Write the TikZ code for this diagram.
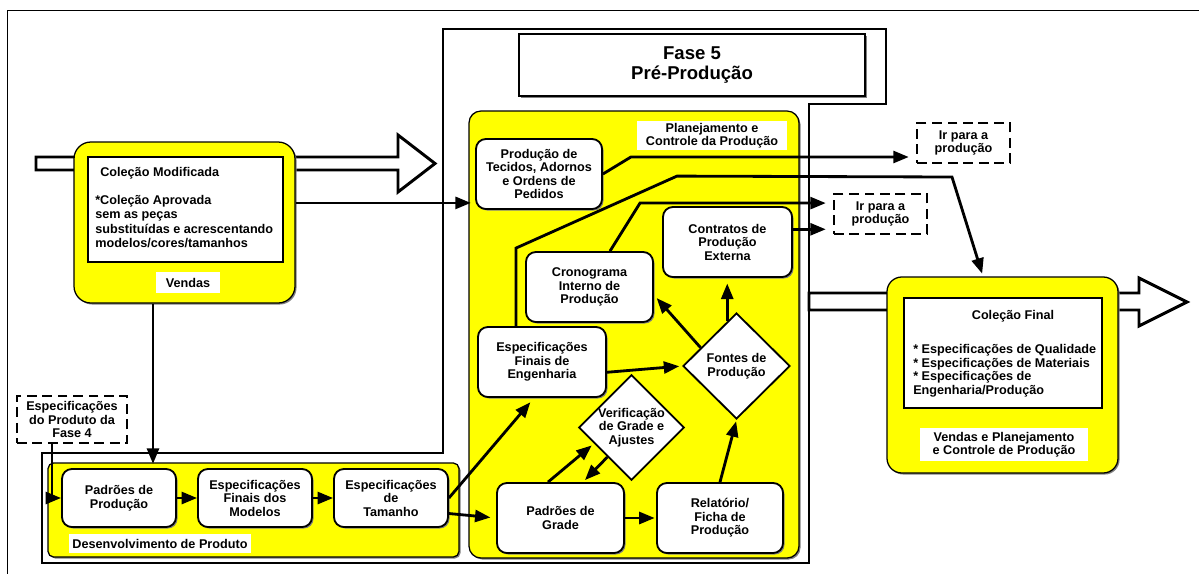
\documentclass[tikz,border=0pt]{standalone}
\usepackage{fontspec}
\setmainfont{Liberation Sans}
\usetikzlibrary{shapes.geometric,arrows.meta,calc,shadows}

\def\pxu{0.025cm}
\definecolor{boxyellow}{RGB}{255,255,0}

\tikzset{
  base/.style={font=\bfseries\fontsize{9}{9.6}\selectfont, align=center, inner sep=0pt},
  shade/.style={drop shadow={shadow xshift=1.1pt, shadow yshift=-1.1pt, fill=black!50, opacity=1}},
  ybox/.style={draw=black, line width=0.9pt, fill=boxyellow, shade},
  wnode/.style={base, draw=black, line width=1.3pt, fill=white, rounded corners=7pt, shade},
  wdiamond/.style={base, shape=diamond, draw=black, line width=1.3pt, fill=white},
  wlabel/.style={base, fill=white},
  dbox/.style={base, draw=black, line width=1.7pt, dash pattern=on 7pt off 4pt, fill=white},
  hollow/.style={draw=black, line width=2.1pt, fill=white, line join=miter},
  arr/.style={line width=2pt, -{Triangle[length=11pt,width=8.5pt]}},
}

\begin{document}
\begin{tikzpicture}[x=\pxu, y=-\pxu]
\useasboundingbox (0,0) rectangle (1199,574);

% page corner lines
\draw[line width=0.7pt] (1199,10) -- (7,10) -- (7,574);

% outline of phase 5
\draw[line width=2.1pt, line join=miter] (443,29) -- (886,29) -- (886,104) -- (809,104)
  -- (809,563) -- (42,563) -- (42,453) -- (443,453) -- cycle;

% wide hollow arrows
\draw[hollow] (36,157) -- (398,157) -- (398,135) -- (435,163.5) -- (398,192) -- (398,170) -- (36,170) -- cycle;
\draw[hollow] (809,293) -- (1139,293) -- (1139,278) -- (1187,302) -- (1139,326) -- (1139,310) -- (809,310) -- cycle;

% phase title
\node[base, draw=black, line width=2.1pt, fill=white, shade,
      font=\bfseries\fontsize{13.2}{13.6}\selectfont,
      minimum width=346*\pxu, minimum height=62*\pxu] (title) at (692,65) {Fase 5\\Pré-Produção};

% sales block
\node[ybox, rounded corners=12pt, minimum width=221*\pxu, minimum height=161*\pxu] (vendas) at (184.5,222.5) {};
\node[draw=black, line width=1pt, fill=white, minimum width=195*\pxu, minimum height=105*\pxu] (vinner) at (185.5,209.5) {};
\node[wlabel, minimum width=64*\pxu, minimum height=21*\pxu] (vlabel) at (188,282.5) {Vendas};
\node[base, anchor=west] (vtitle) at (100,173) {Coleção Modificada};
\node[base, anchor=north west, align=left, font=\bfseries\fontsize{9}{10.3}\selectfont] (vbody) at (95,195)
  {*Coleção Aprovada\\sem as peças\\substituídas e acrescentando\\modelos/cores/tamanhos};

% planning and production control block
\node[ybox, rounded corners=8.5pt, minimum width=330*\pxu, minimum height=447*\pxu] (plan) at (634,334.5) {};
\node[wlabel, minimum width=150*\pxu, minimum height=29*\pxu] (plabel) at (712,135.5) {Planejamento e\\Controle da Produção};

\node[wnode, minimum width=126*\pxu, minimum height=70*\pxu] (tecidos) at (539,174) {Produção de\\Tecidos, Adornos\\e Ordens de\\Pedidos};
\node[wnode, minimum width=129*\pxu, minimum height=70*\pxu] (contratos) at (727.5,242) {Contratos de\\Produção\\Externa};
\node[wnode, minimum width=127*\pxu, minimum height=70*\pxu] (crono) at (589.5,287) {Cronograma\\Interno de\\Produção};
\node[wnode, minimum width=128*\pxu, minimum height=70*\pxu] (engen) at (542,362) {Especificações\\Finais de\\Engenharia};
\node[wdiamond, minimum width=107*\pxu, minimum height=106*\pxu] (fontes) at (736.5,366) {Fontes de\\Produção};
\node[wdiamond, minimum width=105*\pxu, minimum height=105*\pxu] (verif) at (631.5,427.5) {Verificação\\de Grade e\\Ajustes};
\node[wnode, minimum width=127*\pxu, minimum height=70*\pxu] (pgrade) at (560.5,518) {Padrões de\\Grade};
\node[wnode, minimum width=126*\pxu, minimum height=70*\pxu] (relat) at (720,518) {Relatório/\\Ficha de\\Produção};

% product development block
\node[ybox, rounded corners=4pt, minimum width=411*\pxu, minimum height=94*\pxu] (desenv) at (253.5,510) {};
\node[wlabel, minimum width=182*\pxu, minimum height=19*\pxu] (dlabel) at (160,543.5) {Desenvolvimento de Produto};
\node[wnode, minimum width=114*\pxu, minimum height=58*\pxu] (pprod) at (119,498) {Padrões de\\Produção};
\node[wnode, minimum width=114*\pxu, minimum height=58*\pxu] (esmod) at (255,498) {Especificações\\Finais dos\\Modelos};
\node[wnode, minimum width=114*\pxu, minimum height=58*\pxu] (estam) at (391,498) {Especificações\\de\\Tamanho};
\node[dbox, minimum width=110*\pxu, minimum height=47*\pxu] (fase4) at (72,419.5) {Especificações\\do Produto da\\Fase 4};

% final collection block
\node[ybox, rounded corners=10.5pt, minimum width=231*\pxu, minimum height=196*\pxu] (colfinal) at (1002.5,375) {};
\node[draw=black, line width=1pt, fill=white, minimum width=198*\pxu, minimum height=110*\pxu] (cinner) at (1003,353) {};
\node[base] (ctitle) at (1013,316) {Coleção Final};
\node[base, anchor=north west, align=left, font=\bfseries\fontsize{9}{9.7}\selectfont] (cbody) at (913,344)
  {* Especificações de Qualidade\\* Especificações de Materiais\\* Especificações de\\Engenharia/Produção};
\node[wlabel, minimum width=168*\pxu, minimum height=33*\pxu] (clabel) at (1004,444.5) {Vendas e Planejamento\\e Controle de Produção};

% exits to production
\node[dbox, minimum width=93*\pxu, minimum height=40*\pxu] (ir1) at (963.5,143) {Ir para a\\produção};
\node[dbox, minimum width=93*\pxu, minimum height=40*\pxu] (ir2) at (880.5,214) {Ir para a\\produção};

% connectors
\draw[arr, shorten >=3pt] (vendas.10) -- (vendas.10 -| tecidos.west);
\draw[arr, shorten >=5pt] (tecidos.east) -- ++(28,-17) coordinate (k2) -- (k2 -| ir1.west);
\draw[arr, shorten >=2pt] ($(engen.north)+(-26,0)$) -- ++(0,-78) -- ++(161,-72) -- (952,177) -- ($(colfinal.north)+(-19.5,0)$);
\draw[arr, shorten >=5pt] ($(crono.north)+(20.5,0)$) -- ++(30,-48) coordinate (k4) -- (k4 -| ir2.west);
\draw[arr, shorten >=5pt] (contratos.11) -- (contratos.11 -| ir2.west);
\draw[arr, shorten >=3pt] ($(fontes.west)!0.34!(fontes.north)$) -- (crono.-7);
\draw[arr, shorten >=4pt] ($(fontes.north)!0.17!(fontes.west)$) coordinate (k7) -- (k7 |- contratos.south);
\draw[arr, shorten >=2pt] (engen.-9) -- (fontes.west);
\draw[arr, shorten >=1pt] (relat.north) -- (fontes.south);
\draw[arr, shorten >=1pt] (pgrade.east) -- (relat.west);
\draw[arr, shorten >=2pt] ($(pgrade.north)+(-12.5,0)$) -- ($(verif.west)!0.3!(verif.south)$);
\draw[arr, shorten >=2pt] ($(verif.west)!0.55!(verif.south)$) -- ($(pgrade.north)+(22.5,0)$);
\draw[arr, shorten >=4pt] (estam.east) -- ($(engen.south)+(-8,0)$);
\draw[arr, shorten >=4pt] (estam.-15) -- (pgrade.west);
\draw[arr] (pprod.east) -- (esmod.west);
\draw[arr] (esmod.east) -- (estam.west);
\draw[arr, shorten >=3pt] ($(vendas.south)+(-31.5,0)$) coordinate (k17) -- (k17 |- pprod.north);
\draw[arr] ($(fase4.south)+(-20,0)$) |- (pprod.west);

\end{tikzpicture}
\end{document}
